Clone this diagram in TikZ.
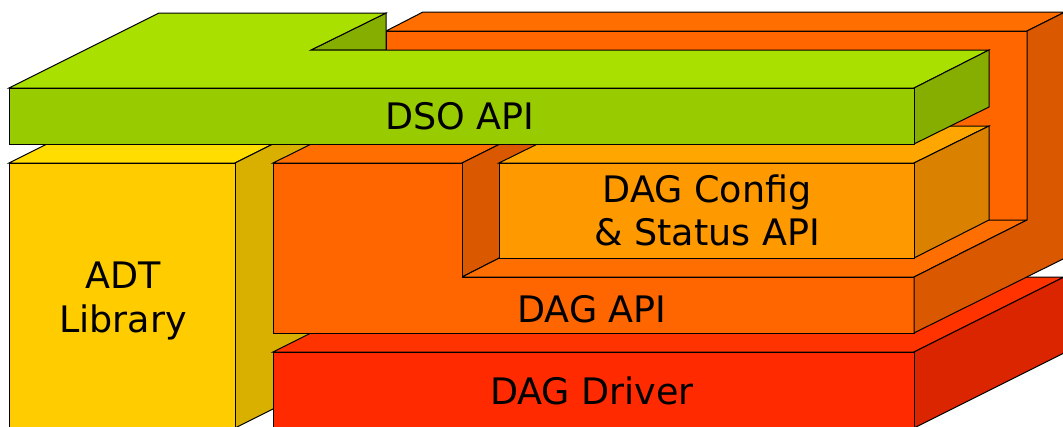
\documentclass[tikz,border=0pt]{standalone}
\usepackage{fontspec}
\setmainfont{DejaVu Sans}

% face colours: front / top / side for each layer
\definecolor{dsoFront}{HTML}{99CC00}
\definecolor{dsoTop}{HTML}{AAE000}
\definecolor{dsoSide}{HTML}{86AE00}
\definecolor{apiFront}{HTML}{FF6600}
\definecolor{apiTop}{HTML}{FF6E00}
\definecolor{apiSide}{HTML}{DA5800}
\definecolor{cfgFront}{HTML}{FF9900}
\definecolor{cfgTop}{HTML}{FFA600}
\definecolor{cfgSide}{HTML}{DA8200}
\definecolor{drvFront}{HTML}{FF2A00}
\definecolor{drvTop}{HTML}{FF3300}
\definecolor{drvSide}{HTML}{DA2500}
\definecolor{adtFront}{HTML}{FFCC00}
\definecolor{adtTop}{HTML}{FFDD00}
\definecolor{adtSide}{HTML}{DAB000}

\tikzset{
  face/.style={draw=black, line width=1pt, line join=miter},
  lbl/.style={anchor=base, inner sep=0pt, font=\fontsize{36.5}{44}\selectfont, text=black},
}

\begin{document}
\begin{tikzpicture}[x=1pt, y=-1pt]
\useasboundingbox (0,0) rectangle (1063,426);
\clip (0,0) rectangle (1063,426);

% ADT Library block
\path[face, fill=adtTop]   (9,163) -- (235,163) -- (385,88) -- (159,88) -- cycle;
\path[face, fill=adtSide]  (235,163) -- (385,88) -- (385,353) -- (235,428) -- cycle;
\path[face, fill=adtFront] (9,163) rectangle (235,428);

% DAG Driver block
\path[face, fill=drvTop]   (273,352) -- (914,352) -- (1064,277) -- (423,277) -- cycle;
\path[face, fill=drvSide]  (914,352) -- (1064,277) -- (1064,353) -- (914,428) -- cycle;
\path[face, fill=drvFront] (273,352) rectangle (914,428);

% DAG API block: upright rear wall plus lower slab with a notch
\path[face, fill=apiFront] (386,31) rectangle (1027,220);
\path[face, fill=apiTop]   (386,31) -- (423,12) -- (1065,12) -- (1027,31) -- cycle;
\path[face, fill=apiTop]   (273,163) -- (462,163) -- (574,107) -- (386,107) -- cycle;
\path[face, fill=apiSide]  (462,163) -- (574,107) -- (574,220) -- (462,277) -- cycle;
\path[face, fill=apiTop]   (462,277) -- (914,277) -- (1027,220) -- (574,220) -- cycle;
\path[face, fill=apiFront] (273,163) -- (462,163) -- (462,277) -- (914,277)
                           -- (914,333) -- (273,333) -- cycle;
\path[face, fill=apiSide]  (914,333) -- (914,277) -- (1027,220) -- (1027,31)
                           -- (1065,12) -- (1065,258) -- cycle;

% DAG Config & Status API block, sitting in the notch
\path[face, fill=cfgTop]   (499,163) -- (914,163) -- (989,126) -- (574,126) -- cycle;
\path[face, fill=cfgSide]  (914,163) -- (989,126) -- (989,220) -- (914,258) -- cycle;
\path[face, fill=cfgFront] (499,163) rectangle (914,258);

% DSO API slab with its raised rear part on the left
\path[face, fill=dsoSide]  (311,50) -- (386,13) -- (386,50) -- cycle;
\path[face, fill=dsoTop]   (9,88) -- (159,13) -- (386,13) -- (311,50)
                           -- (989,50) -- (914,88) -- cycle;
\path[face, fill=dsoSide]  (914,88) -- (989,50) -- (989,107) -- (914,144) -- cycle;
\path[face, fill=dsoFront] (9,88) rectangle (914,144);

% labels
\node[lbl] (dso)  at (460,129) {DSO API};
\node[lbl] (adtA) at (123,288)   {ADT};
\node[lbl] (adtB) at (123,332)   {Library};
\node[lbl] (cfgA) at (707,202)   {DAG Config};
\node[lbl] (cfgB) at (707,245)   {\& Status API};
\node[lbl] (api)  at (592,322)   {DAG API};
\node[lbl] (drv)  at (592,404)   {DAG Driver};
\end{tikzpicture}
\end{document}
